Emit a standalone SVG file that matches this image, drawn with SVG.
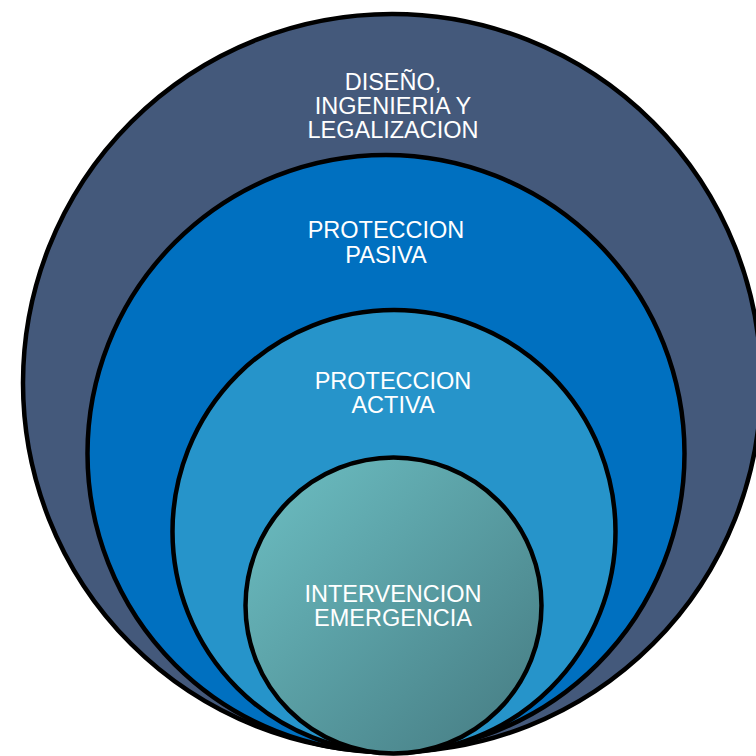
<svg xmlns="http://www.w3.org/2000/svg" width="756" height="756" viewBox="0 0 756 756">
  <defs>
    <linearGradient id="tealGrad" x1="0" y1="0" x2="1" y2="1">
      <stop offset="0" stop-color="#6DC0C4"/>
      <stop offset="1" stop-color="#457A81"/>
    </linearGradient>
  </defs>
  <style>
    .ring { stroke: #000000; stroke-width: 4.5; }
    .lbl { font-family: "Liberation Sans", Arial, sans-serif; font-size: 23.5px; fill: #FFFFFF; text-anchor: middle; }
  </style>
  <rect width="756" height="756" fill="#FFFFFF"/>
  <g id="node-diseno">
    <circle class="ring" cx="392" cy="383" r="369" fill="#44597B"/>
    <text class="lbl" x="393" y="90">DISEÑO,</text>
    <text class="lbl" x="393" y="114">INGENIERIA Y</text>
    <text class="lbl" x="393" y="138">LEGALIZACION</text>
  </g>
  <g id="node-pasiva">
    <circle class="ring" cx="386" cy="453.5" r="298.5" fill="#0070C0"/>
    <text class="lbl" x="386" y="238">PROTECCION</text>
    <text class="lbl" x="386" y="262.5">PASIVA</text>
  </g>
  <g id="node-activa">
    <circle class="ring" cx="394" cy="531.5" r="221.5" fill="#2694CA"/>
    <text class="lbl" x="393" y="388.5">PROTECCION</text>
    <text class="lbl" x="393" y="413">ACTIVA</text>
  </g>
  <g id="node-intervencion">
    <circle class="ring" cx="393.5" cy="605.5" r="148" fill="url(#tealGrad)"/>
    <text class="lbl" x="393" y="601.5">INTERVENCION</text>
    <text class="lbl" x="393" y="625.5">EMERGENCIA</text>
  </g>
  <g id="connectors"></g>
</svg>
